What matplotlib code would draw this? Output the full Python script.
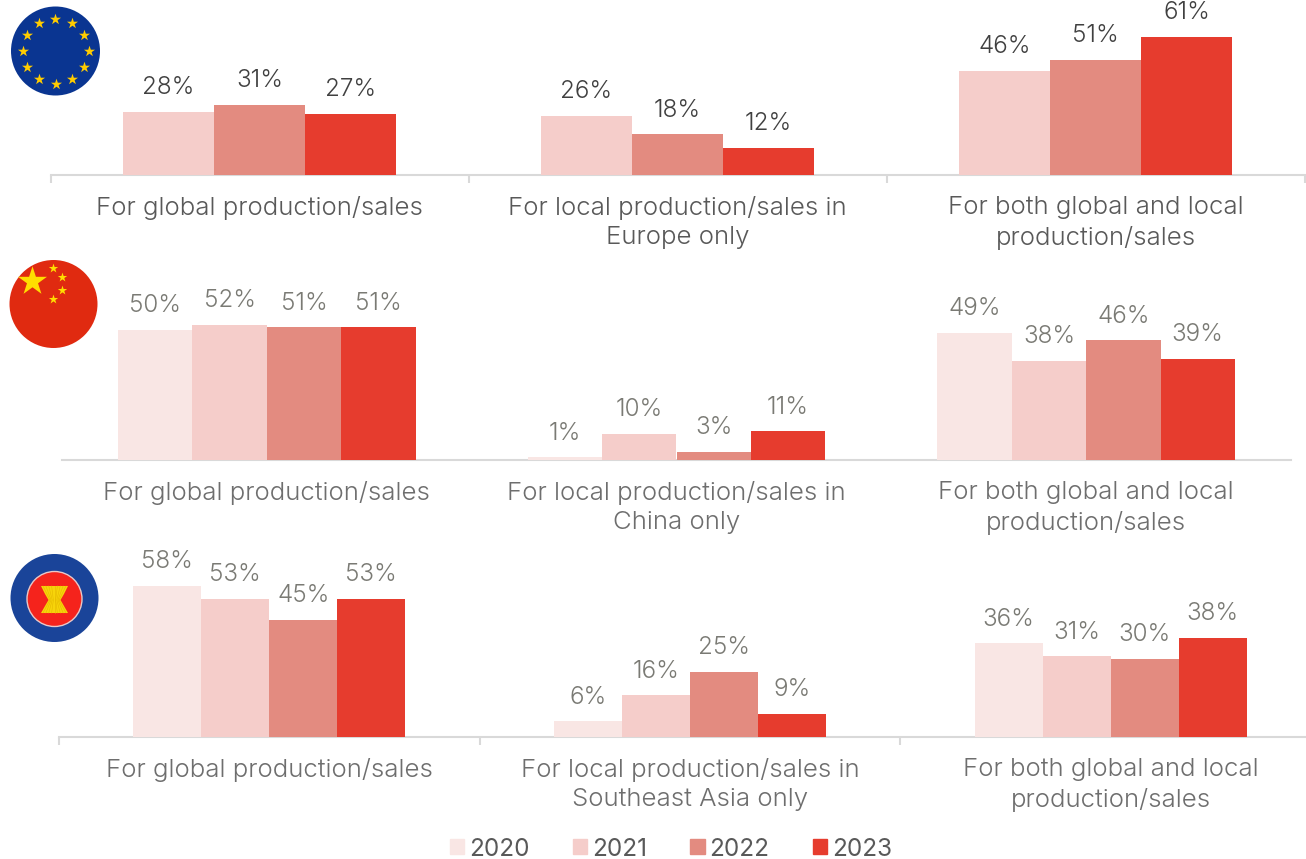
import matplotlib
matplotlib.use("Agg")
import matplotlib.pyplot as plt
import numpy as np
from matplotlib.patches import Circle, Patch, Polygon

plt.rcParams['font.family'] = ['Inter', 'DejaVu Sans']

W, H = 1306, 859

years = ["2020", "2021", "2022", "2023"]
colors = {"2020": "#f9e6e4", "2021": "#f5cdca", "2022": "#e38b80", "2023": "#e63c2e"}

labels_eu = ["For global production/sales", "For local production/sales in\nEurope only",
             "For both global and local\nproduction/sales"]
labels_cn = ["For global production/sales", "For local production/sales in\nChina only",
             "For both global and local\nproduction/sales"]
labels_as = ["For global production/sales", "For local production/sales in\nSoutheast Asia only",
             "For both global and local\nproduction/sales"]

# values in percent, per year, per category
eu_vals = {"2021": [28, 26, 46], "2022": [31, 18, 51], "2023": [27, 12, 61]}
cn_vals = {"2020": [50, 1, 49], "2021": [52, 10, 38], "2022": [51, 3, 46], "2023": [51, 11, 39]}
as_vals = {"2020": [58, 6, 36], "2021": [53, 16, 31], "2022": [45, 25, 30], "2023": [53, 9, 38]}

fig = plt.figure(figsize=(W / 100, H / 100), dpi=100, facecolor="white")


# one row of grouped bars, px arguments are the axes place in the picture
def draw_row(vals, labels, left, right, base, height, px_per_pct, bar_px, val_color, lab_color, ticks):
    ax = fig.add_axes([left / W, 1 - base / H, (right - left) / W, height / H])
    ax.patch.set_alpha(0)
    group_px = (right - left) / 3
    width = bar_px / group_px
    x = np.arange(3)
    n = len(vals)
    for i, (year, v) in enumerate(vals.items()):
        bars = ax.bar(x + (i - (n - 1) / 2) * width, v, width, color=colors[year], zorder=3)
        for b, val in zip(bars, v):
            ax.annotate(f"{val}%", (b.get_x() + b.get_width() / 2, val), xytext=(0, 17.5),
                        textcoords="offset points", ha="center", va="center",
                        fontsize=17.5, color=val_color, fontweight=300, annotation_clip=False)
    ax.set_xlim(-0.5, 2.5)
    ax.set_ylim(0, height / px_per_pct)
    ax.set_xticks(x)
    ax.set_xticklabels(labels, fontsize=18.6, color=lab_color, linespacing=1.37, fontweight=300)
    ax.tick_params(axis="x", length=0, pad=15)
    ax.set_yticks([])
    for s in ["top", "left", "right"]:
        ax.spines[s].set_visible(False)
    ax.spines["bottom"].set_color("#d9d9d9")
    ax.spines["bottom"].set_linewidth(1.5)
    if ticks:
        ax.set_xticks([-0.5, 0.5, 1.5, 2.5], minor=True)
        ax.tick_params(axis="x", which="minor", length=6, width=1.5, color="#d9d9d9")
    return ax


draw_row(eu_vals, labels_eu, 50.5, 1304.5, 175, 150, 2.26, 91, "#404040", "#595959", True)
draw_row(cn_vals, labels_cn, 62, 1291, 460, 170, 2.6, 74.4, "#7a7a74", "#6e6e6e", False)
draw_row(as_vals, labels_as, 59, 1321, 737, 175, 2.6, 68, "#7a7a74", "#6e6e6e", True)

# flags on a picture-wide layer in pixels
top = fig.add_axes([0, 0, 1, 1])
top.set_xlim(0, W)
top.set_ylim(H, 0)
top.axis("off")
top.patch.set_alpha(0)

# EU
top.add_patch(Circle((55.5, 51), 44.5, color="#0a3591", lw=0))
ang = np.arange(12) * np.pi / 6
top.scatter(55.5 + 33 * np.cos(ang), 51 + 32.5 * np.sin(ang), marker="*", s=70, color="#ffcc00", lw=0)

# China
top.add_patch(Circle((53.5, 304), 44, color="#e02a10", lw=0))
top.scatter([32], [281], marker="*", s=480, color="#ffde00", lw=0)
top.scatter([53, 62, 62, 53], [268, 277, 290, 299], marker="*", s=50, color="#ffde00", lw=0)

# ASEAN
top.add_patch(Circle((54.5, 598), 44, color="#1a4499", lw=0))
top.add_patch(Circle((54.5, 599), 27.5, facecolor="#f5231c", edgecolor="#e8c8c8", lw=1))
top.add_patch(Polygon([(41, 586), (68, 586), (64, 594), (60.5, 600), (64, 606), (68, 613),
                       (41, 613), (45, 606), (48.5, 600), (45, 594)],
                      closed=True, color="#f7d40a", lw=0))
for xt in np.linspace(43, 66, 9):
    xm = 54.5 + (xt - 54.5) * 0.4
    top.plot([xt, xm, xt], [586, 600, 613], color="#e6b800", lw=0.4)

handles = [Patch(color=colors[y], label=y) for y in years]
leg = fig.legend(handles=handles, loc="center", bbox_to_anchor=(671 / W, 1 - 849 / H), ncol=4,
                 frameon=False, fontsize=17.5, labelcolor="#595959", handlelength=0.58,
                 handleheight=0.58, handletextpad=0.2, columnspacing=1.79, borderpad=0)

fig.savefig("out.png", dpi=100)
